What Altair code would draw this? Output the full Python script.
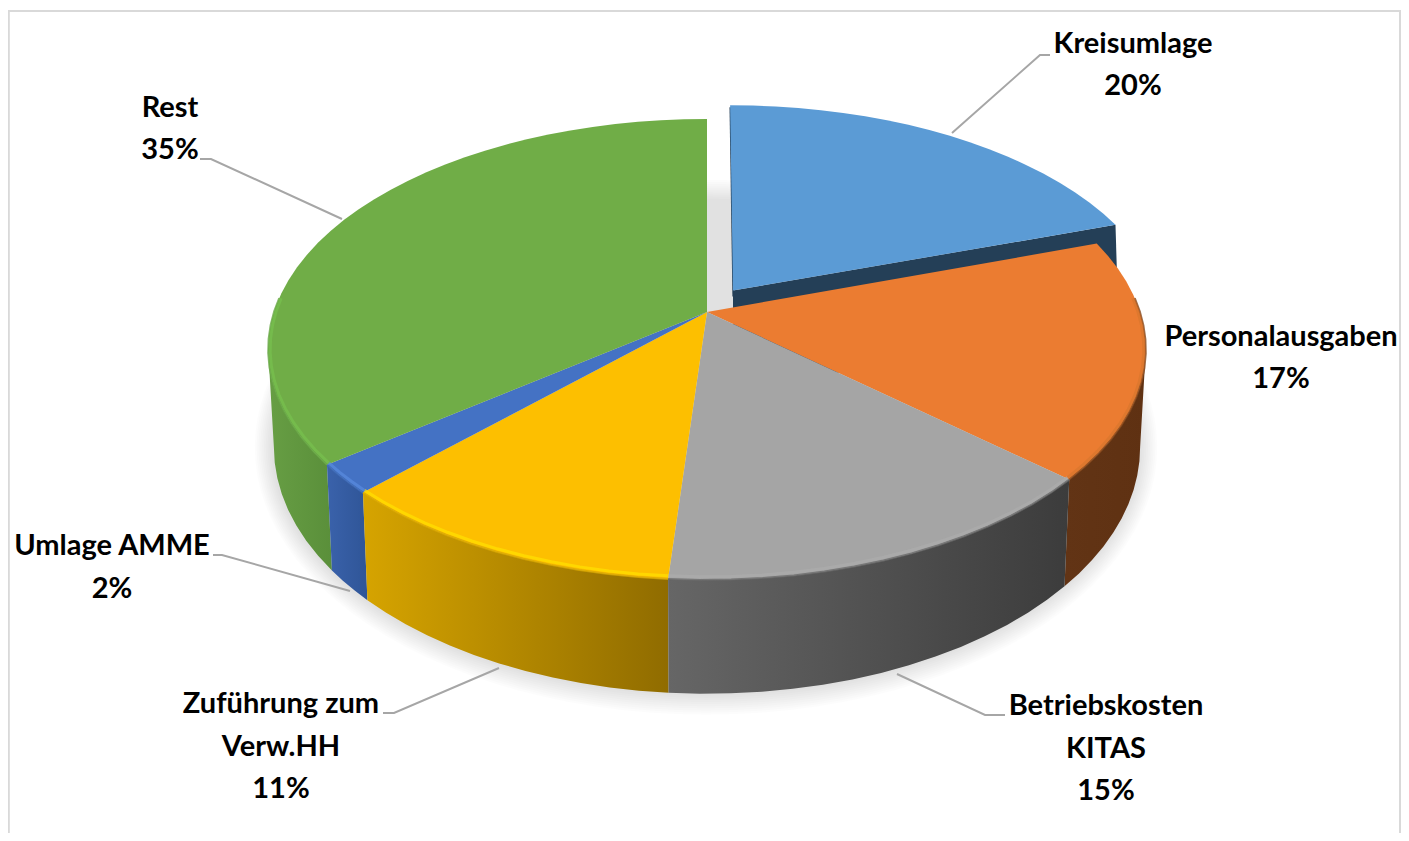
import math
import altair as alt
import pandas as pd

# ---- chart values ----
categories = ["Kreisumlage", "Personalausgaben", "Betriebskosten\nKITAS",
              "Zuführung zum\nVerw.HH", "Umlage AMME", "Rest"]
shares = [19.8, 16.8, 14.6, 11.2, 2.1, 35.5]
percent_labels = ["20%", "17%", "15%", "11%", "2%", "35%"]

# ---- styles ----
top_colors = ["#5b9bd5", "#eb7c31", "#a5a5a5", "#fdbf00", "#4472c4", "#70ad47"]
wall_stops = [("#243f57", "#243f57"), ("#623415", "#5f3112"), ("#666666", "#3c3c3c"),
              ("#d6a400", "#906c00"), ("#3a62ab", "#2f5597"), ("#679e44", "#5a8f3a")]
rim_colors = ["#5b9bd5", "#d9762e", "#adadad", "#ffe100", "#5a8be0", "#78c04f"]
edge_colors = ["#243f57", "#8a4a1c", "#6a6a6a", "#d9a800", "#3f6bb8", "#68a845"]

# ---- layout of the projected pie ----
CX, CY = 707.0, 312.0
A, B, K = 433.0, 224.4, 0.1626
SX, SY, DEPTH = 0.987, 1.07, 95.0
W, H = 1393, 825
RIGHT_EDGE_PCT, LEFT_EDGE_PCT = 27.6, 72.4   # where the pie's silhouette turns


def project(theta):
    s, c = math.sin(theta), math.cos(theta)
    d = 1 + K * c
    return CX + A * s / d, CY - B * c / d


def bottom(p):
    return CX + (p[0] - CX) * SX, CY + DEPTH + (p[1] - CY) * SY


def explode(p):
    return (CX + 26 + (p[0] - CX) * 0.984 + (p[1] - CY) * 0.015,
            CY - 21.5 + (p[1] - CY) * 0.96)


def arc(start, end, step=1.0):
    n = max(2, int(abs(end - start) / step) + 1)
    return [project(math.radians((start + (end - start) * i / n) * 3.6)) for i in range(n + 1)]


def frame_of(points):
    return pd.DataFrame({"x": [p[0] for p in points], "y": [p[1] for p in points],
                         "i": list(range(len(points)))})


x_enc = alt.X("x:Q", scale=alt.Scale(domain=[8, 8 + W], nice=False, zero=False), axis=None)
y_enc = alt.Y("y:Q", scale=alt.Scale(domain=[8 + H, 8], nice=False, zero=False), axis=None)


def polygon(points, fill, opacity=None):
    kw = {"fill": fill, "strokeWidth": 0, "interpolate": "linear"}
    if opacity is not None:
        kw["fillOpacity"] = opacity
    pts = list(points) + [points[0]]
    return alt.Chart(frame_of(pts)).mark_line(**kw).encode(x=x_enc, y=y_enc, order="i:Q")


def polyline(points, color, width, opacity=1.0):
    return alt.Chart(frame_of(points)).mark_line(
        color=color, strokeWidth=width, opacity=opacity, strokeCap="butt"
    ).encode(x=x_enc, y=y_enc, order="i:Q")


def grad(c1, c2):
    return alt.Gradient(gradient="linear", x1=0, x2=1, y1=0, y2=0,
                        stops=[alt.GradientStop(offset=0, color=c1),
                               alt.GradientStop(offset=1, color=c2)])


# cumulative boundaries in percent of the circle
bounds = [0.0]
for v in shares:
    bounds.append(bounds[-1] + v)

layers = []

# soft shadow under the pie
ring = [bottom(project(math.radians(t))) for t in range(0, 360, 3)]
mid_y = CY + DEPTH + 38
for k in range(10, 0, -1):
    ex, ey = 0.0042 * k, 0.0085 * k
    pts = [(CX + (p[0] - CX) * (1 + ex) - 1, mid_y + (p[1] - mid_y) * (1 + ey)) for p in ring]
    layers.append(polygon(pts, "#000000", 0.0105))

# exploded slice: its cut walls are painted before the rest of the pie
edge = arc(bounds[0], bounds[1])
blue_top = [explode((CX, CY))] + [explode(p) for p in edge]
apex, tip = blue_top[0], blue_top[-1]
layers.append(polygon([apex, tip, (tip[0] + 3, tip[1] + 100), (apex[0], apex[1] + 100)], "#243f57"))
layers.append(polyline([(blue_top[1][0] + 0.2, blue_top[1][1] + 2), (apex[0] + 0.2, apex[1] + 6)], "#243f57", 1.6))
layers.append(polygon(blue_top, top_colors[0]))

# outer walls of the remaining slices, limited to the visible front
for idx in [5, 4, 1, 3, 2]:
    lo, hi = bounds[idx], bounds[idx + 1]
    if idx == 1:
        lo = RIGHT_EDGE_PCT
    if idx == 5:
        hi = LEFT_EDGE_PCT
    e = arc(lo, hi)
    poly = e + [bottom(p) for p in reversed(e)]
    layers.append(polygon(poly, grad(*wall_stops[idx])))

# top faces
for idx in [1, 2, 3, 4, 5]:
    e = arc(bounds[idx], bounds[idx + 1])
    layers.append(polygon([(CX, CY)] + e, top_colors[idx]))

# bevel along the front rim of each top face
for idx in [1, 2, 3, 4, 5]:
    lo, hi = bounds[idx], bounds[idx + 1]
    if idx == 1:
        lo = 24.0
    if idx == 5:
        hi = 76.0
    e = arc(lo, hi)
    layers.append(polyline(e, edge_colors[idx], 2.0, 0.8))
    inner = [(CX + (p[0] - CX) * 0.9955, CY + (p[1] - CY) * 0.988) for p in e]
    layers.append(polyline(inner, rim_colors[idx], 3.0, 0.7))

# leader lines
leaders = [
    [(952, 133), (1040, 55), (1050, 55)],
    [(897, 674), (985, 715), (1005, 715)],
    [(499, 668), (394, 713), (383, 713)],
    [(350, 591), (222, 555), (213, 555)],
    [(342, 219), (211, 159), (200, 159)],
]
for line in leaders:
    layers.append(polyline(line, "#a6a6a6", 2))

# chart frame
frame_lines = [[(8.8, 833), (8.8, 11), (1400, 11), (1400, 833)]]
for line in frame_lines:
    layers.append(polyline(line, "#d9d9d9", 2))

# data labels
anchors = [(1133, 43.5), (1281, 336.5), (1106, 706), (281, 704), (112, 546), (170, 107.5)]
rows = []
for cat, pct, (ax, ay) in zip(categories, percent_labels, anchors):
    for j, t in enumerate(cat.split("\n") + [pct]):
        rows.append({"x": ax, "y": ay + j * 42.6, "t": t})
layers.append(
    alt.Chart(pd.DataFrame(rows)).mark_text(
        font="Lato", fontWeight="bold", fontSize=29, color="#000000", align="center", baseline="middle"
    ).encode(x=x_enc, y=y_enc, text="t:N")
)

chart = alt.layer(*layers).properties(
    width=W, height=H, padding={"left": 0, "top": 0, "right": 0, "bottom": 0},
    background="white", autosize=alt.AutoSizeParams(type="none")
).configure_view(stroke=None)
chart.save("out.html", embed_options={"renderer": "svg", "actions": False})
